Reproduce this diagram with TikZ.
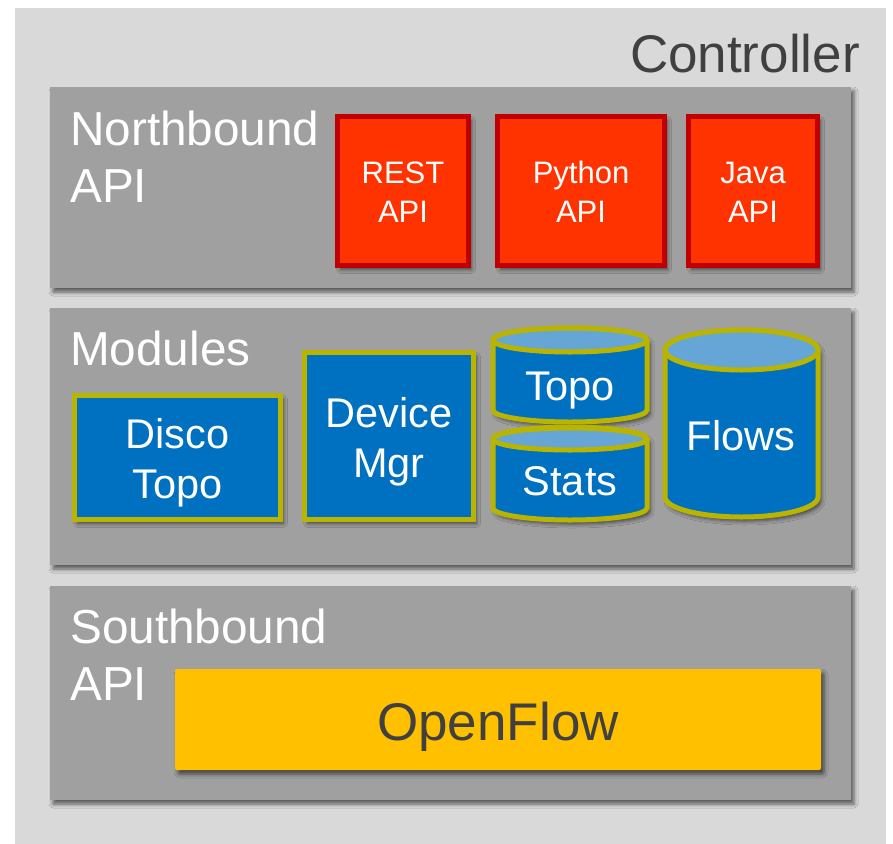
\documentclass[tikz,border=0pt]{standalone}
\usepackage{fontspec}
\setmainfont{Liberation Sans}
\usetikzlibrary{shadows.blur}
\definecolor{outerbg}{RGB}{217,217,217}
\definecolor{panelgray}{RGB}{160,160,160}
\definecolor{apired}{RGB}{255,51,0}
\definecolor{apiborder}{RGB}{192,0,0}
\definecolor{modblue}{RGB}{0,112,192}
\definecolor{modborder}{RGB}{184,180,0}
\definecolor{cyltopblue}{RGB}{102,166,214}
\definecolor{ofyellow}{RGB}{255,192,0}
\definecolor{darktext}{RGB}{64,64,64}
\tikzset{
  shad/.style={blur shadow={shadow xshift=3pt, shadow yshift=-4pt, shadow blur radius=4pt, shadow opacity=60}},
  outerbox/.style={fill=outerbg, draw=black!15, line width=0.8pt, inner sep=0pt},
  panel/.style={fill=panelgray, draw=none, inner sep=0pt, shad},
  apibox/.style={fill=apired, draw=apiborder, line width=5pt, inner sep=0pt, shad},
  modbox/.style={fill=modblue, draw=modborder, line width=5pt, inner sep=0pt, shad},
  cylbody/.style={fill=modblue, draw=modborder, line width=5pt, shad},
  cyltop/.style={fill=cyltopblue, draw=modborder, line width=5pt},
  ofbox/.style={fill=ofyellow, draw=none, rounded corners=2pt, inner sep=0pt, shad},
  bigtxt/.style={font=\fontsize{47.7}{56}\selectfont, text=white, inner sep=0pt, anchor=base west},
  apitxt/.style={font=\fontsize{31}{38}\selectfont, text=white, inner sep=0pt, anchor=base},
  modtxt/.style={font=\fontsize{41.5}{50}\selectfont, text=white, inner sep=0pt, anchor=base},
}
\begin{document}
\begin{tikzpicture}[x=1pt,y=1pt]
\useasboundingbox (0,0) rectangle (893,-843);
\clip (0,0) rectangle (893,-843);
% outer controller box
\node[outerbox, minimum width=870pt, minimum height=862pt, anchor=north west] (ctrl) at (15,-8) {};
\node[font=\fontsize{53}{60}\selectfont, text=darktext, inner sep=0pt, anchor=base east] (ctrltxt) at (860,-72) {Controller};
% panels
\node[panel, minimum width=801pt, minimum height=201pt] (nb) at (450.5,-187.5) {};
\node[panel, minimum width=801pt, minimum height=257pt] (mod) at (450.5,-436.5) {};
\node[panel, minimum width=801pt, minimum height=214pt] (sb) at (450.5,-693) {};
\node[bigtxt] (nbt1) at (70,-145) {Northbound};
\node[bigtxt] (nbt2) at (70,-202) {API};
\node[bigtxt] (modt) at (70,-365) {Modules};
\node[bigtxt] (sbt1) at (70,-643) {Southbound};
\node[bigtxt] (sbt2) at (70,-700) {API};
% northbound API boxes
\node[apibox, minimum width=131pt, minimum height=149pt] (rest) at (403,-191) {};
\node[apibox, minimum width=167pt, minimum height=149pt] (python) at (581,-191) {};
\node[apibox, minimum width=129pt, minimum height=149pt] (java) at (753,-191) {};
\node[apitxt] (rest1) at (403,-183) {REST};
\node[apitxt] (rest2) at (403,-222) {API};
\node[apitxt] (py1) at (581,-183) {Python};
\node[apitxt] (py2) at (581,-222) {API};
\node[apitxt] (java1) at (753,-183) {Java};
\node[apitxt] (java2) at (753,-222) {API};
% module boxes
\node[modbox, minimum width=206pt, minimum height=124pt] (disco) at (177.5,-457.5) {};
\node[modbox, minimum width=169pt, minimum height=167pt] (device) at (389,-436) {};
\node[modtxt] (disco1) at (177.5,-448) {Disco};
\node[modtxt] (disco2) at (177.5,-498) {Topo};
\node[modtxt] (dev1) at (389,-427) {Device};
\node[modtxt] (dev2) at (389,-477) {Mgr};
% cylinders
\draw[cylbody] (493,-340) -- (493,-410) arc[start angle=180,end angle=360,x radius=77pt,y radius=12pt] -- (647,-340) arc[start angle=0,end angle=180,x radius=77pt,y radius=12pt] -- cycle;
\draw[cyltop] (570,-340) ellipse[x radius=77pt,y radius=12pt];
\draw[cylbody] (493,-439) -- (493,-508) arc[start angle=180,end angle=360,x radius=77pt,y radius=12pt] -- (647,-439) arc[start angle=0,end angle=180,x radius=77pt,y radius=12pt] -- cycle;
\draw[cyltop] (570,-439) ellipse[x radius=77pt,y radius=11pt];
\draw[cylbody] (665,-350) -- (665,-497) arc[start angle=180,end angle=360,x radius=76.5pt,y radius=20pt] -- (818,-350) arc[start angle=0,end angle=180,x radius=76.5pt,y radius=20pt] -- cycle;
\draw[cyltop] (741.5,-350) ellipse[x radius=76.5pt,y radius=20pt];
\node[modtxt] (topo) at (570,-400) {Topo};
\node[modtxt] (stats) at (570,-495) {Stats};
\node[modtxt] (flows) at (741,-450) {Flows};
% OpenFlow
\node[ofbox, minimum width=646pt, minimum height=101pt] (of) at (498,-719.5) {};
\node[font=\fontsize{53}{60}\selectfont, text=darktext, inner sep=0pt, anchor=base] (oft) at (498,-740) {OpenFlow};
\end{tikzpicture}
\end{document}
